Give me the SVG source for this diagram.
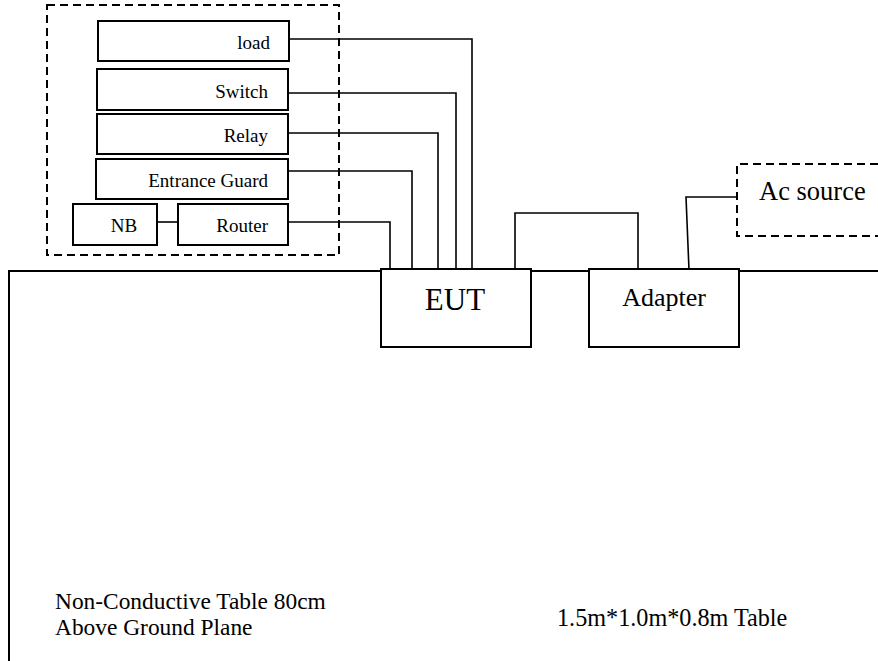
<svg xmlns="http://www.w3.org/2000/svg" width="878" height="661" viewBox="0 0 878 661">
<style>
.box{fill:#fff;stroke:#000;stroke-width:2}
.dash{fill:none;stroke:#000;stroke-width:2;stroke-dasharray:8 5}
.wire{fill:none;stroke:#000;stroke-width:1.6}
.s{font-size:19px}
</style>
<rect width="878" height="661" fill="#fff"/>
<g id="table">
<path d="M9,661 V271 H878" fill="none" stroke="#000" stroke-width="2"/>
</g>
<g id="group-box"><rect class="dash" x="47" y="5" width="292" height="250"/></g>
<g id="connectors">
<polyline class="wire" points="288,39 472,39 472,270"/>
<polyline class="wire" points="288,93 456,93 456,270"/>
<polyline class="wire" points="288,133 438,133 438,270"/>
<polyline class="wire" points="288,171 412,171 412,270"/>
<polyline class="wire" points="288,222 390,222 390,270"/>
<line class="wire" x1="157" y1="222" x2="178" y2="222"/>
<polyline class="wire" points="515,270 515,213 638,213 638,270"/>
<polyline class="wire" points="689,270 686,197 738,197"/>
</g>
<g font-family="'Liberation Serif', 'Times New Roman', 'DejaVu Serif', serif" fill="#000">
<g id="load"><rect class="box" x="98" y="21" width="191" height="40"/><text class="s" x="270" y="49" text-anchor="end">load</text></g>
<g id="switch"><rect class="box" x="97" y="69" width="191" height="41"/><text class="s" x="268" y="98" text-anchor="end">Switch</text></g>
<g id="relay"><rect class="box" x="97" y="114" width="191" height="40"/><text class="s" x="268" y="142" text-anchor="end">Relay</text></g>
<g id="entrance-guard"><rect class="box" x="96" y="159" width="192" height="40"/><text class="s" x="268" y="187" text-anchor="end">Entrance Guard</text></g>
<g id="nb"><rect class="box" x="73" y="204" width="84" height="41"/><text class="s" x="124" y="232" text-anchor="middle">NB</text></g>
<g id="router"><rect class="box" x="178" y="204" width="110" height="41"/><text class="s" x="268" y="232" text-anchor="end">Router</text></g>
<g id="eut"><rect class="box" x="381" y="269" width="150" height="78"/><text x="455" y="310" font-size="31" text-anchor="middle">EUT</text></g>
<g id="adapter"><rect class="box" x="589" y="269" width="150" height="78"/><text x="664" y="306" font-size="26" text-anchor="middle">Adapter</text></g>
<g id="ac-source"><path class="dash" d="M878,164 H737 V236 H878"/><text x="759" y="200" font-size="26.5">Ac source</text></g>
<g id="labels">
<text x="55" y="609" font-size="23.4">Non-Conductive Table 80cm</text>
<text x="55" y="635" font-size="23.4">Above Ground Plane</text>
<text x="557" y="626" font-size="24.2">1.5m*1.0m*0.8m Table</text>
</g>
</g>
</svg>
